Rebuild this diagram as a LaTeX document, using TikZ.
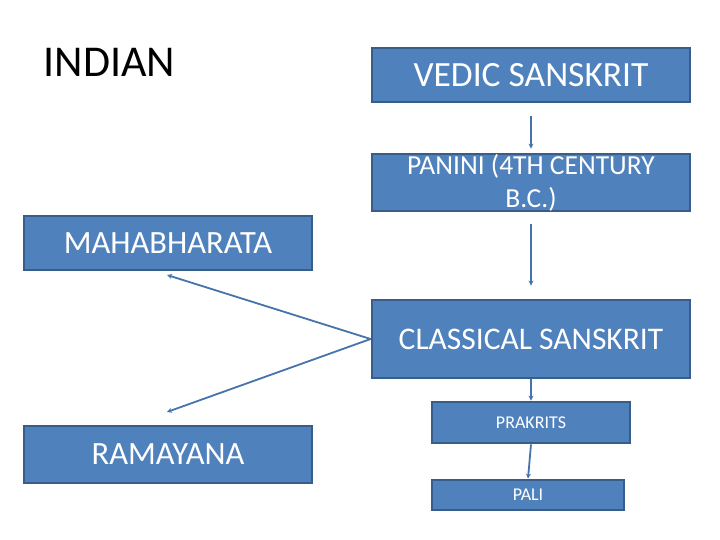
\documentclass[tikz,border=0pt]{standalone}
\usepackage{fontspec}
\setmainfont{Carlito}
\usetikzlibrary{arrows.meta,positioning}
\definecolor{boxfill}{RGB}{79,129,189}
\definecolor{boxline}{RGB}{56,93,138}
\definecolor{arrline}{RGB}{70,115,172}
\tikzset{
  slidebox/.style={rectangle, draw=boxline, line width=2.8pt, fill=boxfill,
                   text=white, align=center, inner sep=0pt},
  arr/.style={-{Stealth[length=5pt,width=5pt]}, line width=1.8pt, color=arrline},
}
\begin{document}
\begin{tikzpicture}[x=1pt,y=-1pt]
  \useasboundingbox (0,0) rectangle (720,540);
  \node[anchor=west, font=\fontsize{44}{48}\selectfont] (title) at (40,62) {INDIAN};
  \node[slidebox, minimum width=318pt, minimum height=54pt, font=\fontsize{35.5}{40}\selectfont] (vedic) at (531,75) {VEDIC SANSKRIT};
  \node[slidebox, minimum width=318pt, minimum height=55pt, font=\fontsize{27.5}{33}\selectfont] (panini) at (531,182.5) {PANINI (4TH CENTURY\\B.C.)};
  \node[slidebox, minimum width=318pt, minimum height=78pt, font=\fontsize{31.5}{36}\selectfont] (classical) at (531,339) {CLASSICAL SANSKRIT};
  \node[slidebox, minimum width=198pt, minimum height=41pt, font=\fontsize{18}{21}\selectfont] (prakrits) at (531,422.5) {PRAKRITS};
  \node[slidebox, minimum width=192pt, minimum height=30pt, font=\fontsize{18}{21}\selectfont] (pali) at (528,495) {PALI};
  \node[slidebox, minimum width=288pt, minimum height=54pt, font=\fontsize{32.5}{37}\selectfont] (maha) at (168,243) {MAHABHARATA};
  \node[slidebox, minimum width=288pt, minimum height=57pt, font=\fontsize{32.5}{37}\selectfont] (rama) at (168,454.5) {RAMAYANA};
  % free arrow ends below / above the epics
  \coordinate (mahaend) at (167,275);
  \coordinate (ramaend) at (167,412);
  \draw[arr, shorten <=13pt, shorten >=4pt] (vedic.south) -- (panini.north);
  \draw[arr, shorten <=12pt, shorten >=13pt] (panini.south) -- (classical.north);
  \draw[arr] (classical.west) -- (mahaend);
  \draw[arr] (classical.west) -- (ramaend);
  \draw[arr] (classical.south) -- (prakrits.north);
  \draw[arr] (prakrits.south) -- (pali.north);
\end{tikzpicture}
\end{document}
